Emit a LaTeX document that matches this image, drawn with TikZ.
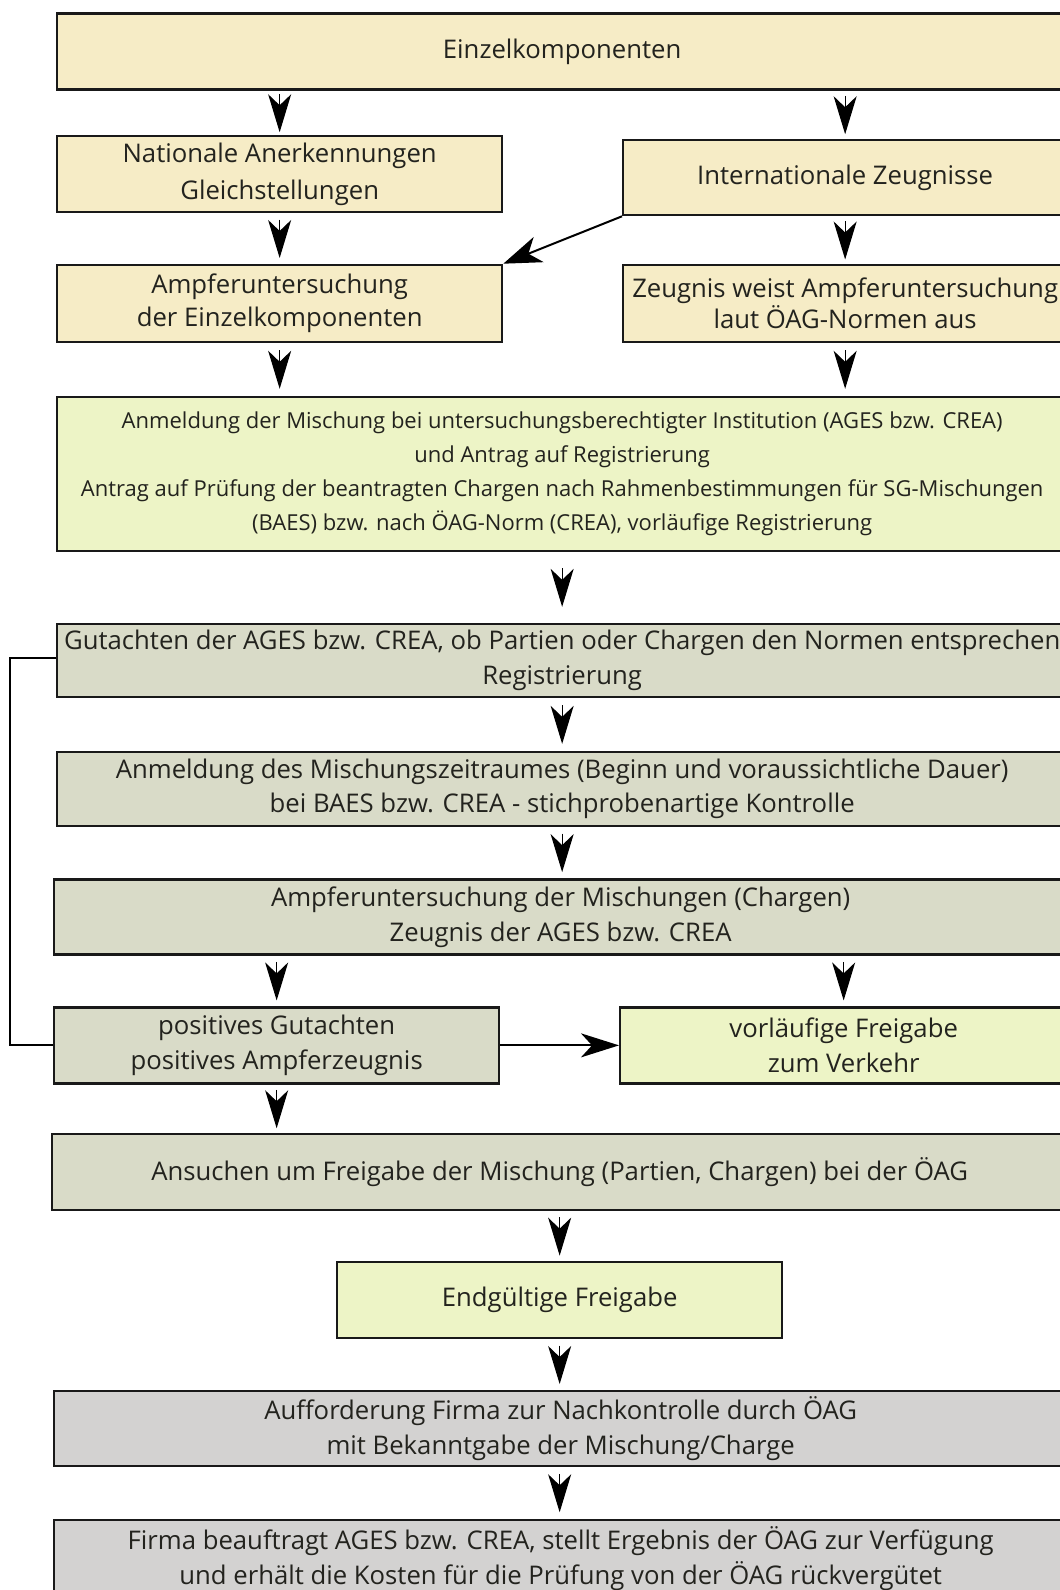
\documentclass[tikz,border=0pt]{standalone}
\usepackage{fontspec}
\setmainfont{Open Sans}
\usetikzlibrary{arrows.meta,calc}
\definecolor{cbeige}{RGB}{246,236,198}
\definecolor{cgreen}{RGB}{237,244,198}
\definecolor{cgg}{RGB}{217,219,200}
\definecolor{cgray}{RGB}{211,210,209}
\definecolor{ctext}{RGB}{35,35,30}
\tikzset{
  boxbase/.style={draw=black!90, line width=2.3pt, inner sep=0pt, align=center,
    anchor=north west, text=ctext, font=\fontsize{25.7}{34.5}\selectfont},
  bbeige/.style={boxbase, fill=cbeige},
  bgreen/.style={boxbase, fill=cgreen},
  bgg/.style={boxbase, fill=cgg},
  bgray/.style={boxbase, fill=cgray},
  varr/.style={line width=1.2pt, -{Stealth[length=38pt,width=23pt,inset=11pt]}},
  arr/.style={line width=2pt, -{Stealth[length=38pt,width=24pt,inset=11pt]}},
  plainline/.style={line width=2pt},
}
\newcommand{\varrow}[2]{\draw[varr] ($(#1)!0.5!(#2)+(0,-19)$) -- ($(#1)!0.5!(#2)+(0,19.5)$);}
\begin{document}
\begin{tikzpicture}[x=1pt,y=-1pt]
\path[use as bounding box] (0,0) rectangle (1060,1590);
\clip (0,0) rectangle (1060,1590);
\fill[white] (0,0) rectangle (1060,1590);

\node[bbeige, minimum width=1010pt, minimum height=76pt] (ein) at (56,12.2) {Einzelkomponenten};
\node[bbeige, minimum width=445pt, minimum height=76pt, font=\fontsize{25.7}{36.5}\selectfont] (nat) at (56,135) {Nationale Anerkennungen\\Gleichstellungen};
\node[bbeige, minimum width=444pt, minimum height=75pt] (intl) at (622,139) {Internationale Zeugnisse};
\node[bbeige, minimum width=445pt, minimum height=77pt, font=\fontsize{25.7}{32.5}\selectfont] (amp) at (56,263.7) {Ampferuntersuchung\\der Einzelkomponenten};
\node[bbeige, minimum width=444pt, minimum height=77pt, font=\fontsize{25.7}{29}\selectfont] (zeug) at (622,263.7) {Zeugnis weist Ampferuntersuchung\\laut ÖAG-Normen aus};
\node[bgreen, minimum width=1010pt, minimum height=154pt, font=\fontsize{22}{34}\selectfont] (anm) at (56,395.6)
  {Anmeldung der Mischung bei untersuchungsberechtigter Institution (AGES bzw. CREA)\\und Antrag auf Registrierung\\Antrag auf Prüfung der beantragten Chargen nach Rahmenbestimmungen für SG-Mischungen\\(BAES) bzw. nach ÖAG-Norm (CREA), vorläufige Registrierung};
\node[bgg, minimum width=1010pt, minimum height=73pt] (gut) at (56,622.8) {Gutachten der AGES bzw. CREA, ob Partien oder Chargen den Normen entsprechen\\Registrierung};
\node[bgg, minimum width=1010pt, minimum height=74pt] (misch) at (56,750.6) {Anmeldung des Mischungszeitraumes (Beginn und voraussichtliche Dauer)\\bei BAES bzw. CREA - stichprobenartige Kontrolle};
\node[bgg, minimum width=1013pt, minimum height=75pt] (ampm) at (53,878.4) {Ampferuntersuchung der Mischungen (Chargen)\\Zeugnis der AGES bzw. CREA};
\node[bgg, minimum width=445pt, minimum height=76pt] (pos) at (53,1006.2) {positives Gutachten\\positives Ampferzeugnis};
\node[bgreen, minimum width=447pt, minimum height=76pt] (vorl) at (619,1006.2) {vorläufige Freigabe\\zum Verkehr};
\node[bgg, minimum width=1015pt, minimum height=76pt] (ans) at (51,1133) {Ansuchen um Freigabe der Mischung (Partien, Chargen) bei der ÖAG};
\node[bgreen, minimum width=445pt, minimum height=76pt] (end) at (336,1261) {Endgültige Freigabe};
\node[bgray, minimum width=1013pt, minimum height=75pt] (auf) at (53,1389.7) {Aufforderung Firma zur Nachkontrolle durch ÖAG\\mit Bekanntgabe der Mischung/Charge};
\node[bgray, minimum width=1013pt, minimum height=78pt] (firma) at (53,1518.5) {Firma beauftragt AGES bzw. CREA, stellt Ergebnis der ÖAG zur Verfügung\\und erhält die Kosten für die Prüfung von der ÖAG rückvergütet};

% vertical arrows
\varrow{ein.south -| nat.north}{nat.north}
\varrow{ein.south -| intl.north}{intl.north}
\varrow{nat.south}{amp.north}
\varrow{intl.south}{zeug.north}
\varrow{amp.south}{amp.south |- anm.north}
\varrow{zeug.south}{zeug.south |- anm.north}
\varrow{anm.south}{gut.north}
\varrow{gut.south}{misch.north}
\varrow{misch.south}{misch.south |- ampm.north}
\varrow{ampm.south -| pos.north}{pos.north}
\varrow{ampm.south -| vorl.north}{vorl.north}
\varrow{pos.south}{pos.south |- ans.north}
\varrow{ans.south -| end.north}{end.north}
\varrow{end.south}{end.south |- auf.north}
\varrow{end.south |- auf.south}{end.south |- firma.north}

% other connectors
\draw[arr, -{Stealth[length=38pt,width=27pt,inset=11pt]}] (intl.south west) -- (amp.north east);
\draw[arr] (pos.east) -- (vorl.west);
\draw[plainline] ($(gut.west)+(0,-2)$) -- ++(-45.7,0) |- (pos.west);
\end{tikzpicture}
\end{document}
